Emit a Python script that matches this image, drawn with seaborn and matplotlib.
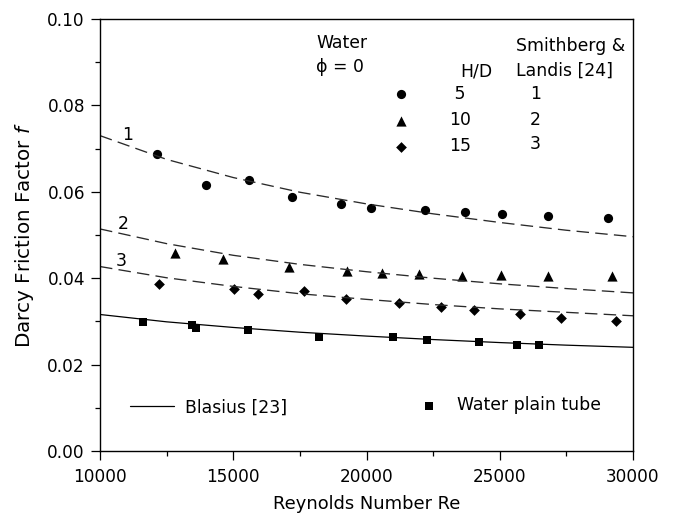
import matplotlib
matplotlib.use("Agg")
import matplotlib.pyplot as plt
from matplotlib.ticker import MultipleLocator
import seaborn as sns
import pandas as pd

# Measured friction factors, water in tubes with twisted-tape inserts
re_hd5 = [12130, 13970, 15580, 17220, 19050, 20170, 22200, 23710, 25100, 26810, 29050]
f_hd5 = [0.0687, 0.0616, 0.0627, 0.0588, 0.0572, 0.0563, 0.0557, 0.0553, 0.0549, 0.0545, 0.0539]

re_hd10 = [12810, 14630, 17080, 19270, 20600, 21970, 23600, 25050, 26820, 29200]
f_hd10 = [0.0459, 0.0444, 0.0427, 0.0417, 0.0411, 0.0409, 0.0406, 0.0407, 0.0406, 0.0406]

re_hd15 = [12230, 15010, 15920, 17660, 19220, 21230, 22790, 24050, 25760, 27290, 29350]
f_hd15 = [0.0387, 0.0376, 0.0363, 0.0370, 0.0352, 0.0343, 0.0333, 0.0326, 0.0317, 0.0309, 0.0302]

# Plain tube, water
re_plain = [11630, 13450, 13590, 15550, 18210, 21010, 22270, 24220, 25650, 26460]
f_plain = [0.0298, 0.0292, 0.0285, 0.0281, 0.0263, 0.0265, 0.0256, 0.0252, 0.0245, 0.0245]

# Correlation curves: Blasius [23] and Smithberg & Landis [24] (1, 2, 3)
re_curve = [10000, 12500, 15000, 17500, 20000, 22500, 25000, 27500, 30000]
f_blasius = [0.0316, 0.0299, 0.0286, 0.0275, 0.0266, 0.0258, 0.0251, 0.0245, 0.0240]
f_sl1 = [0.0730, 0.0675, 0.0633, 0.0599, 0.0572, 0.0549, 0.0529, 0.0511, 0.0496]
f_sl2 = [0.0514, 0.0480, 0.0453, 0.0432, 0.0415, 0.0400, 0.0387, 0.0376, 0.0366]
f_sl3 = [0.0427, 0.0401, 0.0381, 0.0364, 0.0351, 0.0339, 0.0329, 0.0321, 0.0313]

curve_labels = ["1", "2", "3"]
curve_label_re = [11030, 10870, 10810]
curve_label_f = [0.0719, 0.0513, 0.0428]

hd_labels = [" 5", "10", "15"]
sl_labels = ["1", "2", "3"]

sns.set_style("ticks")
plt.rcParams["font.family"] = ["DejaVu Sans"]
plt.rcParams["font.size"] = 12.4
plt.rcParams["lines.scale_dashes"] = False
for key in ["text.color", "axes.labelcolor", "xtick.color", "ytick.color",
            "xtick.labelcolor", "ytick.labelcolor"]:
    plt.rcParams[key] = "black"

fig = plt.figure(figsize=(6.73, 5.22), dpi=100)
fig.patch.set_facecolor("white")
ax = fig.add_axes([100 / 673, 1 - 451 / 522, 533 / 673, 432 / 522])

dash = (0, (9.0, 4.5))
curves = pd.DataFrame({"Re": re_curve, "blasius": f_blasius,
                       "sl1": f_sl1, "sl2": f_sl2, "sl3": f_sl3})
sns.lineplot(data=curves, x="Re", y="blasius", ax=ax, color="black",
             linewidth=0.9, estimator=None)
blasius_line = ax.lines[-1]
for col in ["sl1", "sl2", "sl3"]:
    sns.lineplot(data=curves, x="Re", y=col, ax=ax, color="#2a2a2a",
                 linewidth=0.95, linestyle=dash, estimator=None)

pts_kw = dict(color="black", linewidth=0, ax=ax)
sns.scatterplot(x=re_hd5, y=f_hd5, marker="o", s=44, **pts_kw)
circ = ax.collections[-1]
sns.scatterplot(x=re_hd10, y=f_hd10, marker="^", s=54, **pts_kw)
tri = ax.collections[-1]
sns.scatterplot(x=re_hd15, y=f_hd15, marker="D", s=30, **pts_kw)
dia = ax.collections[-1]
sns.scatterplot(x=re_plain, y=f_plain, marker="s", s=40, **pts_kw)
sq = ax.collections[-1]

for lab, rx, fy in zip(curve_labels, curve_label_re, curve_label_f):
    ax.text(rx, fy, lab, ha="center", va="baseline", fontsize=12.4)

ax.set_xlim(10000, 30000)
ax.set_ylim(0.0, 0.10)
ax.set_xticks([10000, 15000, 20000, 25000, 30000])
ax.set_yticks([0.00, 0.02, 0.04, 0.06, 0.08, 0.10])
ax.set_yticklabels(["0.00", "0.02", "0.04", "0.06", "0.08", "0.10"])
ax.xaxis.set_minor_locator(MultipleLocator(2500))
ax.yaxis.set_minor_locator(MultipleLocator(0.01))
ax.tick_params(which="major", direction="out", length=6.5, width=0.9,
               color="black", labelsize=12.2, top=False, right=False)
ax.tick_params(axis="x", which="major", pad=6.0)
ax.tick_params(axis="y", which="major", pad=4.3)
ax.tick_params(which="minor", direction="out", length=3.6, width=0.9,
               color="black", top=False, right=False)
for sp in ax.spines.values():
    sp.set_visible(True)
    sp.set_color("black")
    sp.set_linewidth(1.0)

ax.set_xlabel("Reynolds Number Re", fontsize=12.9, labelpad=6)
ax.set_ylabel(r"Darcy Friction Factor $f$", fontsize=14.3, labelpad=8)

# Top key: symbols with H/D values, then the matching correlation numbers
leg_top = ax.legend(handles=[circ, tri, dia], labels=hd_labels,
                    loc="center left", bbox_to_anchor=(0.5492, 0.766),
                    frameon=False, borderpad=0, borderaxespad=0,
                    handlelength=1.0, handletextpad=2.27, labelspacing=0.48,
                    scatterpoints=1, fontsize=12.4)
ax.add_artist(leg_top)

ax.text(0.4053, 0.9322, "Water", transform=ax.transAxes, ha="left", va="baseline")
ax.text(0.4053, 0.878, "\u03d5 = 0", transform=ax.transAxes, ha="left", va="baseline")
ax.text(0.6754, 0.868, "H/D", transform=ax.transAxes, ha="left", va="baseline")
ax.text(0.7805, 0.9266, "Smithberg &", transform=ax.transAxes, ha="left", va="baseline")
ax.text(0.7805, 0.868, "Landis [24]", transform=ax.transAxes, ha="left", va="baseline")
for lab, yy in zip(sl_labels, [0.8155, 0.7553, 0.6984]):
    ax.text(0.817, yy, lab, transform=ax.transAxes, ha="center", va="baseline")

# Bottom keys
leg_bl = ax.legend(handles=[blasius_line], labels=["Blasius [23]"],
                   loc="center left", bbox_to_anchor=(0.0570, 0.1007),
                   frameon=False, borderpad=0, borderaxespad=0,
                   handlelength=2.55, handletextpad=0.63, fontsize=12.4)
ax.add_artist(leg_bl)
ax.legend(handles=[sq], labels=["Water plain tube"],
          loc="center left", bbox_to_anchor=(0.601, 0.106),
          frameon=False, borderpad=0, borderaxespad=0,
          handlelength=1.0, handletextpad=1.15, scatterpoints=1, fontsize=12.4)

fig.savefig("out.png", dpi=100, facecolor="white")
